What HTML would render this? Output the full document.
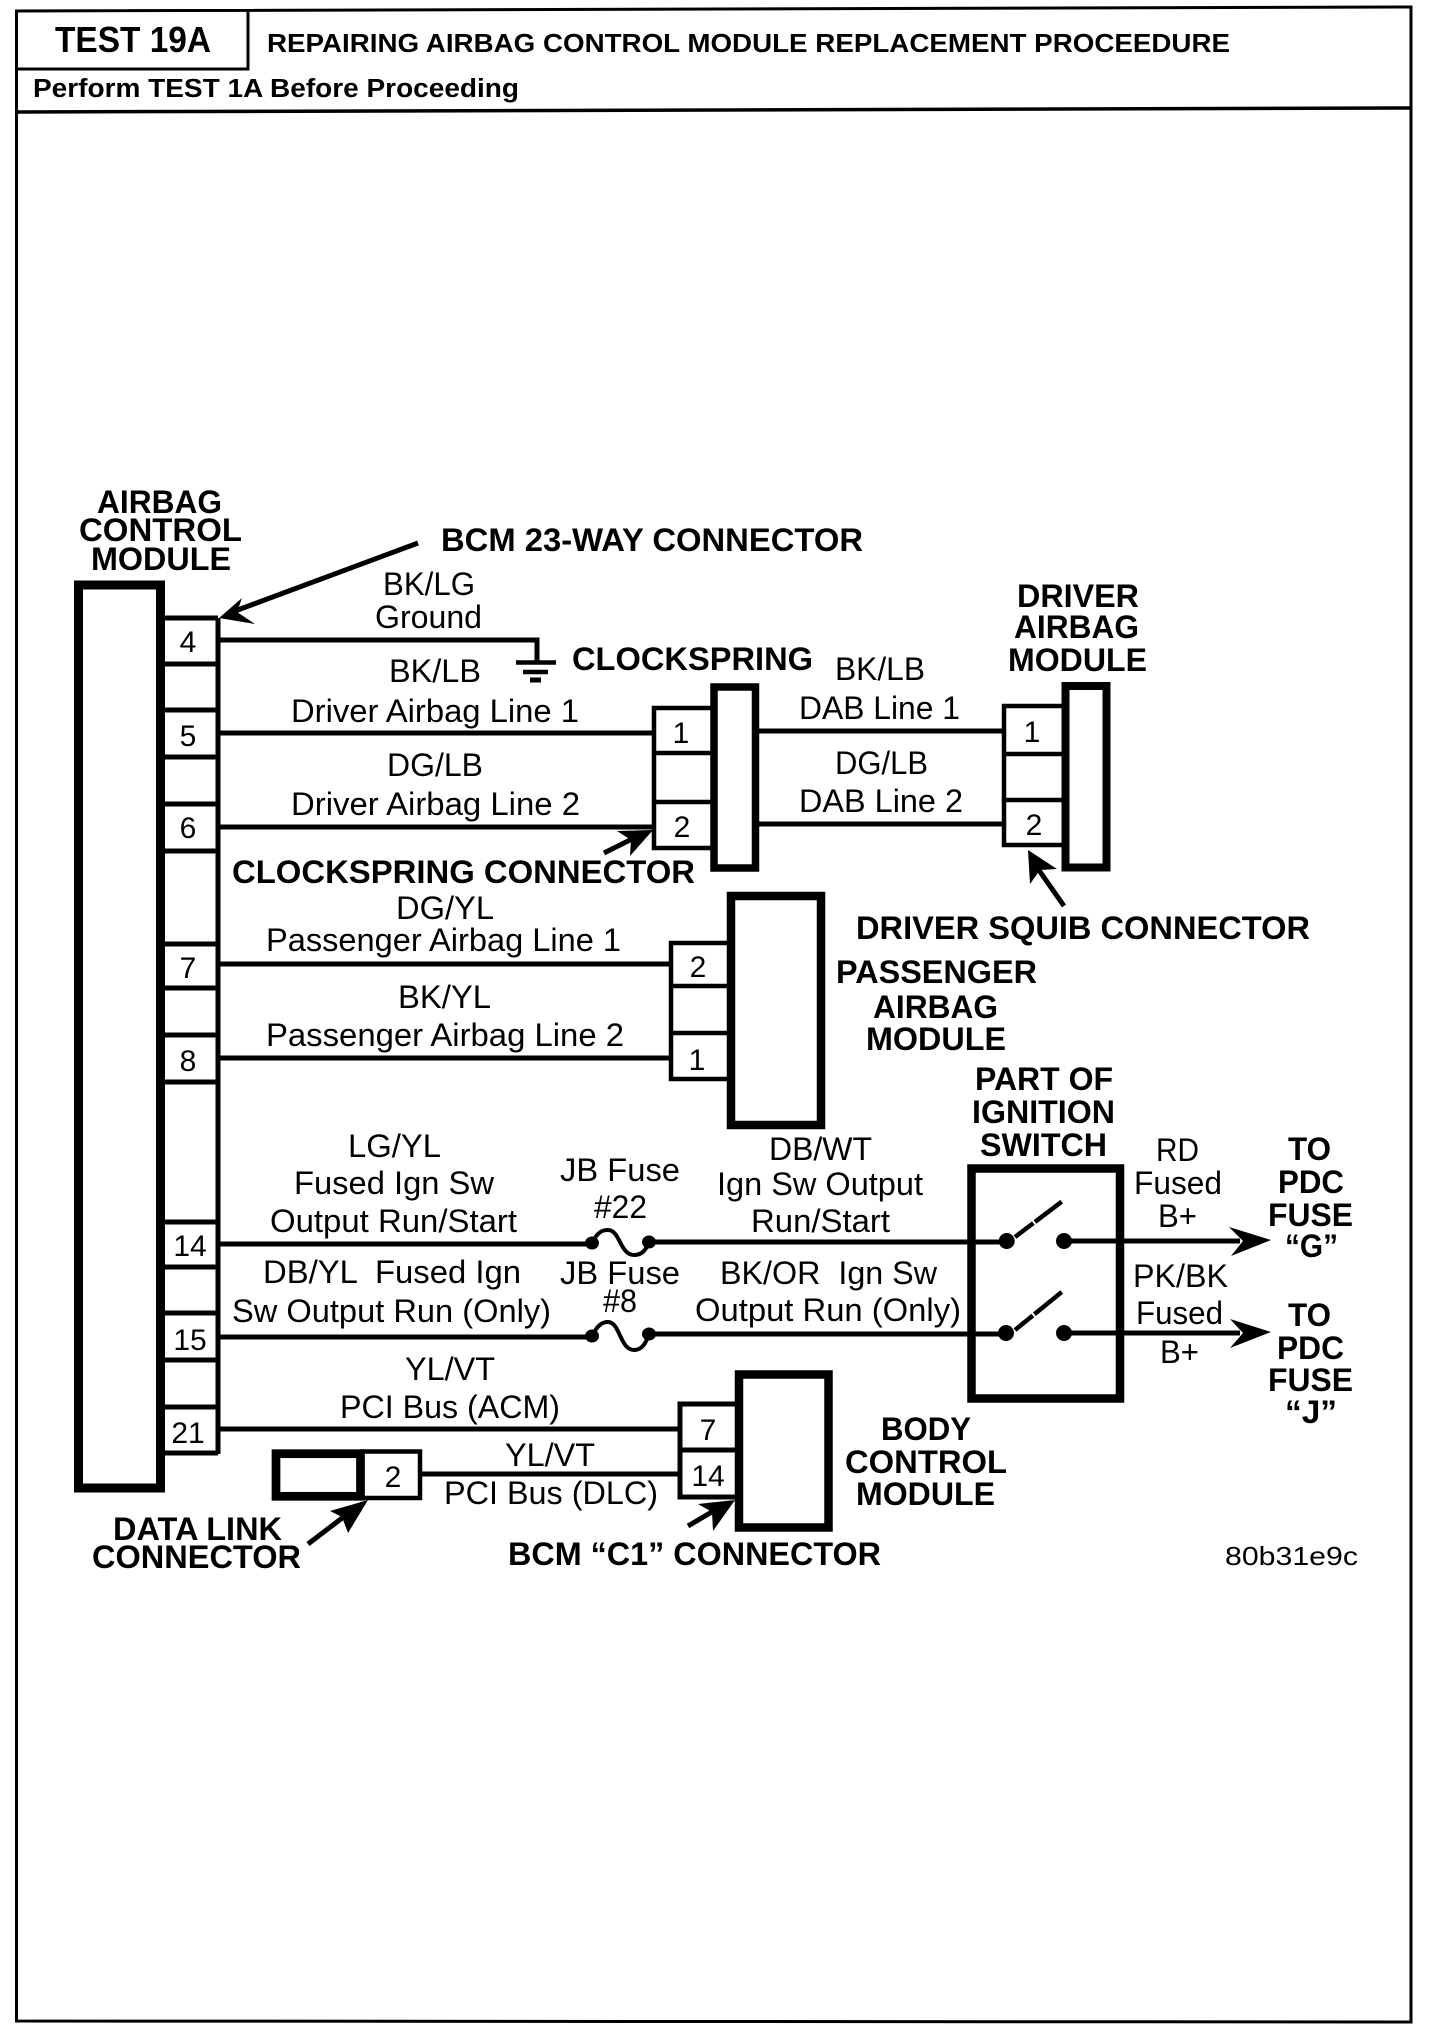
<!DOCTYPE html>
<html><head><meta charset="utf-8"><style>
html,body{margin:0;padding:0;background:#fff}
svg{display:block}
text{font-family:"Liberation Sans",sans-serif;fill:#000}
.r{font-size:32px}
.p{font-size:30px}
.b{font-size:32px;font-weight:bold}
.s{font-size:25.5px;font-weight:bold}
</style></head><body>
<svg width="1440" height="2030" viewBox="0 0 1440 2030" xmlns="http://www.w3.org/2000/svg">
<rect width="1440" height="2030" fill="#fff"/>
<g fill="none" stroke="#000">
<path d="M16.5 2021V11L1411 7V2022Z" stroke-width="3"/>
<path d="M248 11V69H17" stroke-width="3"/>
<path d="M17 112L1411 108" stroke-width="3.5"/>
<!-- ACM -->
<rect x="78.5" y="585" width="82" height="903" stroke-width="9"/>
<path d="M218 618V1454" stroke-width="5"/>
<path d="M160 618H218M160 664H218M160 710H218M160 757H218M160 804H218M160 851H218M160 944H218M160 988H218M160 1035H218M160 1082H218M160 1222H218M160 1267H218M160 1313H218M160 1360H218M160 1407H218M160 1453H218" stroke-width="5"/>
<!-- wires -->
<g stroke-width="5">
<path d="M217 640H537V662"/>
<path d="M217 733H653M217 827H653"/>
<path d="M217 964H671M217 1058H671"/>
<path d="M217 1244H592M649 1242H1007M1064 1241H1240"/>
<path d="M217 1337H592M649 1334H1007M1064 1333H1240"/>
<path d="M217 1429H680M420 1474H680"/>
<path d="M759 731H1004M759 824H1004"/>
</g>
<path d="M516 662.5H556M523 672H548" stroke-width="4.5"/>
<path d="M530 680H541" stroke-width="5"/>
<!-- clockspring -->
<rect x="714" y="687" width="41.5" height="181" stroke-width="7.5"/>
<path d="M711 708H654V848H711M654 753H711M654 802H711" stroke-width="4.5"/>
<!-- driver -->
<rect x="1065.5" y="686" width="41" height="181.5" stroke-width="8"/>
<path d="M1062 706H1004V845H1062M1004 754H1062M1004 800H1062" stroke-width="4.5"/>
<!-- passenger -->
<rect x="731" y="896" width="90" height="229" stroke-width="8.5"/>
<path d="M727 943H671V1079H727M671 986H727M671 1033H727" stroke-width="4.5"/>
<!-- switch -->
<rect x="971.5" y="1168.5" width="148.5" height="230" stroke-width="8.5"/>
<path d="M1015 1237L1061.7 1201.7M1015 1330L1061.7 1292" stroke-width="4.5" stroke-dasharray="23 2 40"/>
<!-- BCM -->
<rect x="739" y="1374.5" width="89.5" height="153" stroke-width="8.5"/>
<path d="M735 1404H680V1497H735M680 1450H735" stroke-width="5"/>
<!-- DLC -->
<rect x="276" y="1453.7" width="84.5" height="42.6" stroke-width="8.7"/>
<path d="M360 1451.5H420V1498H360" stroke-width="4.5"/>
<!-- fuses -->
<path d="M592 1243C598 1231 603 1230 608 1230C620 1230 620 1255 634 1255C642 1255 646 1250 649 1242" stroke-width="4"/>
<path d="M592 1336C598 1324 603 1322 608 1322C620 1322 620 1350 634 1350C642 1350 646 1343 649 1334" stroke-width="4"/>
<!-- arrow shafts -->
<path d="M418 543L235 611" stroke-width="5"/>
<path d="M604 853L640 835" stroke-width="5"/>
<path d="M1064 906L1036 866" stroke-width="5"/>
<path d="M308 1544L350 1512" stroke-width="5"/>
<path d="M688 1526L722 1506" stroke-width="5"/>
</g>
<g fill="#000">
<ellipse cx="592" cy="1243" rx="7" ry="6.5"/><ellipse cx="649" cy="1242" rx="7" ry="6.5"/>
<ellipse cx="592" cy="1336" rx="7" ry="6.5"/><ellipse cx="649" cy="1334" rx="7" ry="6.5"/>
<ellipse cx="1006.7" cy="1241" rx="8" ry="8"/><ellipse cx="1064" cy="1241" rx="8" ry="8"/>
<ellipse cx="1006" cy="1333" rx="8" ry="8"/><ellipse cx="1064" cy="1333" rx="8" ry="8"/>
<polygon points="219,618 242,598 237,612 255,624"/>
<polygon points="653,830 617,831 631,840 630,856"/>
<polygon points="1028,850 1057,869 1040,870 1030,884"/>
<polygon points="368,1500 330,1511 342,1517 348,1533"/>
<polygon points="735,1500 698,1504 712,1512 713,1531"/>
<polygon points="1271,1240 1229,1227 1243,1241 1231,1256"/>
<polygon points="1271,1332 1230,1319 1243,1333 1230,1348"/>
</g>
<!-- pin numbers -->
<g class="p" text-anchor="middle">
<text x="188" y="652">4</text><text x="188" y="746">5</text><text x="188" y="838">6</text><text x="188" y="978">7</text><text x="188" y="1071">8</text>
<text x="190" y="1256">14</text><text x="190" y="1350">15</text><text x="188" y="1443">21</text>
<text x="681" y="743">1</text><text x="682" y="837">2</text>
<text x="698" y="977">2</text><text x="697" y="1070">1</text>
<text x="1032" y="742">1</text><text x="1034" y="835">2</text>
<text x="708" y="1440">7</text><text x="708" y="1486">14</text>
<text x="393" y="1487">2</text>
</g>
<!-- header -->
<text font-size="36" font-weight="bold" x="55" y="52" textLength="156" lengthAdjust="spacingAndGlyphs">TEST 19A</text>
<text class="s" x="267" y="52" textLength="963" lengthAdjust="spacingAndGlyphs">REPAIRING AIRBAG CONTROL MODULE REPLACEMENT PROCEEDURE</text>
<text class="s" x="33" y="97" textLength="486" lengthAdjust="spacingAndGlyphs">Perform TEST 1A Before Proceeding</text>
<!-- bold labels -->
<g class="b">
<text x="97" y="513" textLength="125" lengthAdjust="spacingAndGlyphs">AIRBAG</text>
<text x="79" y="541" textLength="163" lengthAdjust="spacingAndGlyphs">CONTROL</text>
<text x="91" y="570" textLength="140" lengthAdjust="spacingAndGlyphs">MODULE</text>
<text x="441" y="551" textLength="422" lengthAdjust="spacingAndGlyphs">BCM 23-WAY CONNECTOR</text>
<text x="572" y="670" textLength="241" lengthAdjust="spacingAndGlyphs">CLOCKSPRING</text>
<text x="232" y="883" textLength="463" lengthAdjust="spacingAndGlyphs">CLOCKSPRING CONNECTOR</text>
<text x="1017" y="607" textLength="122" lengthAdjust="spacingAndGlyphs">DRIVER</text>
<text x="1014" y="638" textLength="125" lengthAdjust="spacingAndGlyphs">AIRBAG</text>
<text x="1008" y="671" textLength="139" lengthAdjust="spacingAndGlyphs">MODULE</text>
<text x="856" y="939" textLength="454" lengthAdjust="spacingAndGlyphs">DRIVER SQUIB CONNECTOR</text>
<text x="836" y="983" textLength="201" lengthAdjust="spacingAndGlyphs">PASSENGER</text>
<text x="873" y="1018" textLength="125" lengthAdjust="spacingAndGlyphs">AIRBAG</text>
<text x="866" y="1050" textLength="140" lengthAdjust="spacingAndGlyphs">MODULE</text>
<text x="975" y="1090" textLength="138" lengthAdjust="spacingAndGlyphs">PART OF</text>
<text x="972" y="1123" textLength="143" lengthAdjust="spacingAndGlyphs">IGNITION</text>
<text x="980" y="1156" textLength="127" lengthAdjust="spacingAndGlyphs">SWITCH</text>
<text x="1288" y="1160" textLength="43" lengthAdjust="spacingAndGlyphs">TO</text>
<text x="1278" y="1193" textLength="66" lengthAdjust="spacingAndGlyphs">PDC</text>
<text x="1268" y="1226" textLength="85" lengthAdjust="spacingAndGlyphs">FUSE</text>
<text x="1285" y="1257" textLength="53" lengthAdjust="spacingAndGlyphs">“G”</text>
<text x="1288" y="1326" textLength="43" lengthAdjust="spacingAndGlyphs">TO</text>
<text x="1277" y="1359" textLength="67" lengthAdjust="spacingAndGlyphs">PDC</text>
<text x="1268" y="1391" textLength="85" lengthAdjust="spacingAndGlyphs">FUSE</text>
<text x="1285" y="1423" textLength="52" lengthAdjust="spacingAndGlyphs">“J”</text>
<text x="881" y="1440" textLength="90" lengthAdjust="spacingAndGlyphs">BODY</text>
<text x="845" y="1473" textLength="162" lengthAdjust="spacingAndGlyphs">CONTROL</text>
<text x="856" y="1505" textLength="139" lengthAdjust="spacingAndGlyphs">MODULE</text>
<text x="113" y="1540" textLength="169" lengthAdjust="spacingAndGlyphs">DATA LINK</text>
<text x="92" y="1568" textLength="209" lengthAdjust="spacingAndGlyphs">CONNECTOR</text>
<text x="508" y="1565" textLength="373" lengthAdjust="spacingAndGlyphs">BCM “C1” CONNECTOR</text>
</g>
<!-- regular labels -->
<g class="r">
<text x="383" y="595" textLength="92" lengthAdjust="spacingAndGlyphs">BK/LG</text>
<text x="375" y="628" textLength="107" lengthAdjust="spacingAndGlyphs">Ground</text>
<text x="389" y="682" textLength="92" lengthAdjust="spacingAndGlyphs">BK/LB</text>
<text x="291" y="722" textLength="288" lengthAdjust="spacingAndGlyphs">Driver Airbag Line 1</text>
<text x="387" y="776" textLength="96" lengthAdjust="spacingAndGlyphs">DG/LB</text>
<text x="291" y="815" textLength="289" lengthAdjust="spacingAndGlyphs">Driver Airbag Line 2</text>
<text x="396" y="919" textLength="98" lengthAdjust="spacingAndGlyphs">DG/YL</text>
<text x="266" y="951" textLength="355" lengthAdjust="spacingAndGlyphs">Passenger Airbag Line 1</text>
<text x="398" y="1008" textLength="93" lengthAdjust="spacingAndGlyphs">BK/YL</text>
<text x="266" y="1046" textLength="358" lengthAdjust="spacingAndGlyphs">Passenger Airbag Line 2</text>
<text x="835" y="680" textLength="90" lengthAdjust="spacingAndGlyphs">BK/LB</text>
<text x="799" y="719" textLength="161" lengthAdjust="spacingAndGlyphs">DAB Line 1</text>
<text x="835" y="774" textLength="93" lengthAdjust="spacingAndGlyphs">DG/LB</text>
<text x="799" y="812" textLength="164" lengthAdjust="spacingAndGlyphs">DAB Line 2</text>
<text x="348" y="1157" textLength="93" lengthAdjust="spacingAndGlyphs">LG/YL</text>
<text x="294" y="1194" textLength="200" lengthAdjust="spacingAndGlyphs">Fused Ign Sw</text>
<text x="270" y="1232" textLength="247" lengthAdjust="spacingAndGlyphs">Output Run/Start</text>
<text x="560" y="1181" textLength="120" lengthAdjust="spacingAndGlyphs">JB Fuse</text>
<text x="594" y="1218" textLength="53" lengthAdjust="spacingAndGlyphs">#22</text>
<text x="263" y="1283" textLength="258" lengthAdjust="spacingAndGlyphs" xml:space="preserve">DB/YL  Fused Ign</text>
<text x="232" y="1322" textLength="319" lengthAdjust="spacingAndGlyphs">Sw Output Run (Only)</text>
<text x="560" y="1284" textLength="120" lengthAdjust="spacingAndGlyphs">JB Fuse</text>
<text x="603" y="1312" textLength="34" lengthAdjust="spacingAndGlyphs">#8</text>
<text x="405" y="1380" textLength="90" lengthAdjust="spacingAndGlyphs">YL/VT</text>
<text x="340" y="1418" textLength="220" lengthAdjust="spacingAndGlyphs">PCI Bus (ACM)</text>
<text x="505" y="1466" textLength="90" lengthAdjust="spacingAndGlyphs">YL/VT</text>
<text x="444" y="1504" textLength="214" lengthAdjust="spacingAndGlyphs">PCI Bus (DLC)</text>
<text x="769" y="1160" textLength="103" lengthAdjust="spacingAndGlyphs">DB/WT</text>
<text x="717" y="1195" textLength="206" lengthAdjust="spacingAndGlyphs">Ign Sw Output</text>
<text x="751" y="1232" textLength="139" lengthAdjust="spacingAndGlyphs">Run/Start</text>
<text x="720" y="1284" textLength="217" lengthAdjust="spacingAndGlyphs" xml:space="preserve">BK/OR  Ign Sw</text>
<text x="695" y="1321" textLength="266" lengthAdjust="spacingAndGlyphs">Output Run (Only)</text>
<text x="1156" y="1161" textLength="43" lengthAdjust="spacingAndGlyphs">RD</text>
<text x="1134" y="1194" textLength="88" lengthAdjust="spacingAndGlyphs">Fused</text>
<text x="1158" y="1227" textLength="39" lengthAdjust="spacingAndGlyphs">B+</text>
<text x="1133" y="1287" textLength="95" lengthAdjust="spacingAndGlyphs">PK/BK</text>
<text x="1136" y="1324" textLength="87" lengthAdjust="spacingAndGlyphs">Fused</text>
<text x="1160" y="1363" textLength="39" lengthAdjust="spacingAndGlyphs">B+</text>
</g>
<text x="1225" y="1565" font-size="26" textLength="133" lengthAdjust="spacingAndGlyphs">80b31e9c</text>
</svg>
</body></html>
